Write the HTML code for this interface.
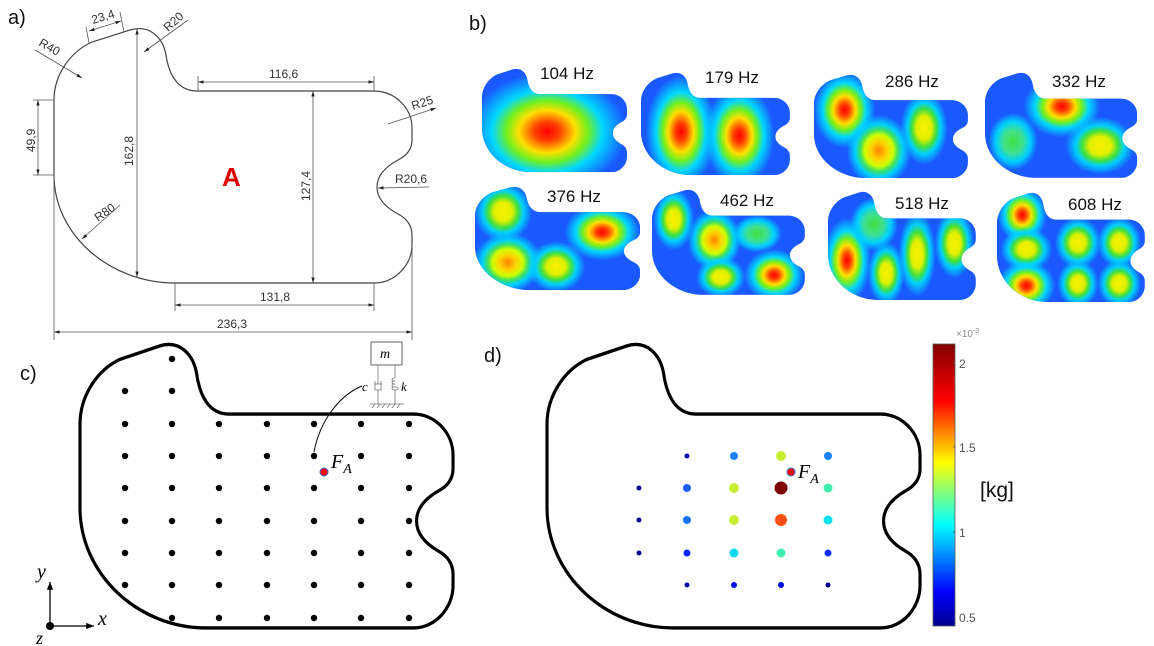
<!DOCTYPE html>
<html><head><meta charset="utf-8"><style>
html,body{margin:0;padding:0;background:#fff;}
svg{display:block;}
text{font-family:"Liberation Sans",sans-serif;}
.dim{font-size:12px;fill:#333;}
.lbl{font-size:20px;fill:#111;}
.hz{font-size:17px;fill:#111;}
.it{font-family:"Liberation Serif",serif;font-style:italic;}
</style></head><body>
<svg width="1154" height="646" viewBox="0 0 1154 646" xmlns="http://www.w3.org/2000/svg">
<defs>
<path id="shape" d="M54,100 C54,75 70,52 92,42 L130,30 C150,24 163,38 166,55 C169,75 178,91 197,91 L374,91 C395,91 412,108 412,128 L412,140 C412,150 406,156 398,160 C385,167 377,176 377,187 C377,198 385,207 398,214 C406,218 412,225 412,235 L412,245 C412,265 395,283 374,283 L175,283 C110,283 54,235 54,175 Z"/>
<clipPath id="cp" clipPathUnits="userSpaceOnUse"><use href="#shape"/></clipPath>
<marker id="ar" viewBox="0 0 10 10" refX="10" refY="5" markerWidth="7" markerHeight="7" orient="auto-start-reverse"><path d="M0,2 L10,5 L0,8 Z" fill="#222"/></marker>
<marker id="ar2" viewBox="0 0 10 10" refX="10" refY="5" markerWidth="6" markerHeight="6" orient="auto-start-reverse"><path d="M0,1 L10,5 L0,9 Z" fill="#000"/></marker>
<radialGradient id="hot"><stop offset="0" stop-color="#ff0000"/><stop offset=".16" stop-color="#ff4000"/><stop offset=".36" stop-color="#ffe000"/><stop offset=".52" stop-color="#70f020"/><stop offset=".7" stop-color="#00d8ff"/><stop offset="1" stop-color="#00d8ff" stop-opacity="0"/></radialGradient>
<radialGradient id="med"><stop offset="0" stop-color="#ff8000"/><stop offset=".24" stop-color="#ffd000"/><stop offset=".44" stop-color="#d0ff00"/><stop offset=".58" stop-color="#40e060"/><stop offset=".74" stop-color="#00d0ff"/><stop offset="1" stop-color="#00d0ff" stop-opacity="0"/></radialGradient>
<radialGradient id="weak"><stop offset="0" stop-color="#f8f000"/><stop offset=".32" stop-color="#e0f000"/><stop offset=".52" stop-color="#40e040"/><stop offset=".7" stop-color="#00d0ff"/><stop offset="1" stop-color="#00d0ff" stop-opacity="0"/></radialGradient>
<radialGradient id="grn"><stop offset="0" stop-color="#40e040"/><stop offset=".4" stop-color="#40e090"/><stop offset=".7" stop-color="#00d0ff"/><stop offset="1" stop-color="#00d0ff" stop-opacity="0"/></radialGradient>
<linearGradient id="jet" x1="0" y1="1" x2="0" y2="0"><stop offset="0" stop-color="#00008f"/><stop offset=".12" stop-color="#0000ff"/><stop offset=".36" stop-color="#00ffff"/><stop offset=".58" stop-color="#ffff00"/><stop offset=".8" stop-color="#ff0000"/><stop offset="1" stop-color="#800000"/></linearGradient>
<g id="bg"><rect x="40" y="20" width="400" height="280" fill="#1848ff"/><rect x="40" y="20" width="400" height="280" fill="#20a0ff" opacity="0.2"/></g>
</defs>

<!-- Panel a -->
<text class="lbl" x="8" y="24">a)</text>
<use href="#shape" fill="none" stroke="#444" stroke-width="1.2"/>
<g stroke="#555" stroke-width="0.8" fill="none">
<line x1="89" y1="43" x2="86" y2="27"/><line x1="124" y1="32" x2="120" y2="12"/>
<line x1="89" y1="31" x2="121" y2="21" marker-start="url(#ar)" marker-end="url(#ar)"/>
<line x1="144" y1="52" x2="188" y2="20" marker-start="url(#ar)"/>
<line x1="35" y1="50" x2="82" y2="78" marker-end="url(#ar)" />
<line x1="33" y1="100" x2="54" y2="100"/><line x1="33" y1="175" x2="54" y2="175"/>
<line x1="38" y1="100" x2="38" y2="175" marker-start="url(#ar)" marker-end="url(#ar)"/>
<line x1="137" y1="29" x2="137" y2="277" marker-start="url(#ar)" marker-end="url(#ar)"/>
<line x1="198" y1="76" x2="198" y2="91"/><line x1="374" y1="76" x2="374" y2="91"/>
<line x1="198" y1="82" x2="374" y2="82" marker-start="url(#ar)" marker-end="url(#ar)"/>
<line x1="313" y1="91" x2="313" y2="283" marker-start="url(#ar)" marker-end="url(#ar)"/>
<line x1="436" y1="108" x2="388" y2="124" marker-start="url(#ar)"/>
<line x1="429" y1="187" x2="378" y2="188" marker-end="url(#ar)"/>
<line x1="120" y1="205" x2="82" y2="239" marker-end="url(#ar)"/>
<line x1="175" y1="283" x2="175" y2="311"/><line x1="374" y1="283" x2="374" y2="311"/>
<line x1="175" y1="305" x2="374" y2="305" marker-start="url(#ar)" marker-end="url(#ar)"/>
<line x1="54" y1="175" x2="54" y2="340"/><line x1="412" y1="245" x2="412" y2="340"/>
<line x1="54" y1="332" x2="412" y2="332" marker-start="url(#ar)" marker-end="url(#ar)"/>
</g>
<text class="dim" transform="translate(93,24) rotate(-17)">23,4</text>
<text class="dim" transform="translate(168,32) rotate(-42)">R20</text>
<text class="dim" transform="translate(38,45) rotate(30)">R40</text>
<text class="dim" transform="translate(35,152) rotate(-90)">49,9</text>
<text class="dim" transform="translate(133,166) rotate(-90)">162,8</text>
<text class="dim" x="269" y="78">116,6</text>
<text class="dim" transform="translate(310,201) rotate(-90)">127,4</text>
<text class="dim" transform="translate(413,110) rotate(-18)">R25</text>
<text class="dim" x="395" y="183">R20,6</text>
<text class="dim" transform="translate(98,222) rotate(-35)">R80</text>
<text class="dim" x="260" y="301">131,8</text>
<text class="dim" x="217" y="328">236,3</text>
<text x="222" y="186" font-size="26" font-weight="bold" fill="#e00000">A</text>

<!-- Panel b -->
<text class="lbl" x="469" y="30">b)</text>
<g transform="translate(482,69) scale(0.405,0.406) translate(-54,-29)">
<g clip-path="url(#cp)"><use href="#bg"/>
<ellipse cx="215" cy="183" rx="195" ry="145" fill="url(#hot)"/></g></g>
<g transform="translate(641,73) scale(0.416,0.402) translate(-54,-29)">
<g clip-path="url(#cp)"><use href="#bg"/>
<ellipse cx="150" cy="175" rx="85" ry="140" fill="url(#hot)"/><ellipse cx="290" cy="185" rx="85" ry="125" fill="url(#hot)"/></g></g>
<g transform="translate(814,75) scale(0.430,0.406) translate(-54,-29)">
<g clip-path="url(#cp)"><use href="#bg"/>
<ellipse cx="125" cy="115" rx="72" ry="95" fill="url(#hot)"/><ellipse cx="205" cy="215" rx="75" ry="88" fill="url(#med)"/><ellipse cx="310" cy="160" rx="55" ry="90" fill="url(#weak)"/></g></g>
<g transform="translate(985,73) scale(0.425,0.413) translate(-54,-29)">
<g clip-path="url(#cp)"><use href="#bg"/>
<ellipse cx="235" cy="110" rx="90" ry="75" fill="url(#hot)"/><ellipse cx="325" cy="205" rx="82" ry="70" fill="url(#weak)"/><ellipse cx="120" cy="195" rx="58" ry="70" fill="url(#grn)"/></g></g>
<g transform="translate(475,187) scale(0.461,0.406) translate(-54,-29)">
<g clip-path="url(#cp)"><use href="#bg"/>
<ellipse cx="115" cy="90" rx="63" ry="75" fill="url(#weak)"/><ellipse cx="125" cy="215" rx="75" ry="75" fill="url(#med)"/><ellipse cx="230" cy="225" rx="63" ry="63" fill="url(#weak)"/><ellipse cx="330" cy="140" rx="82" ry="70" fill="url(#hot)"/></g></g>
<g transform="translate(652,190) scale(0.427,0.413) translate(-54,-29)">
<g clip-path="url(#cp)"><use href="#bg"/>
<ellipse cx="105" cy="100" rx="48" ry="75" fill="url(#weak)"/><ellipse cx="200" cy="150" rx="63" ry="75" fill="url(#med)"/><ellipse cx="300" cy="135" rx="58" ry="45" fill="url(#grn)"/><ellipse cx="215" cy="240" rx="58" ry="50" fill="url(#weak)"/><ellipse cx="340" cy="235" rx="70" ry="63" fill="url(#hot)"/></g></g>
<g transform="translate(828,192) scale(0.413,0.425) translate(-54,-29)">
<g clip-path="url(#cp)"><use href="#bg"/>
<ellipse cx="100" cy="190" rx="58" ry="100" fill="url(#hot)"/><ellipse cx="165" cy="105" rx="58" ry="63" fill="url(#grn)"/><ellipse cx="195" cy="220" rx="45" ry="75" fill="url(#weak)"/><ellipse cx="270" cy="175" rx="45" ry="100" fill="url(#weak)"/><ellipse cx="360" cy="150" rx="48" ry="82" fill="url(#weak)"/></g></g>
<g transform="translate(997,193) scale(0.413,0.429) translate(-54,-29)">
<g clip-path="url(#cp)"><use href="#bg"/>
<ellipse cx="115" cy="80" rx="60" ry="65" fill="url(#hot)"/><ellipse cx="125" cy="160" rx="63" ry="52" fill="url(#weak)"/><ellipse cx="125" cy="245" rx="70" ry="60" fill="url(#hot)"/><ellipse cx="250" cy="145" rx="56" ry="60" fill="url(#weak)"/><ellipse cx="350" cy="145" rx="53" ry="60" fill="url(#weak)"/><ellipse cx="250" cy="240" rx="50" ry="56" fill="url(#weak)"/><ellipse cx="350" cy="240" rx="53" ry="56" fill="url(#weak)"/></g></g>
<text class="hz" x="540" y="79">104 Hz</text>
<text class="hz" x="705" y="83">179 Hz</text>
<text class="hz" x="885" y="87">286 Hz</text>
<text class="hz" x="1052" y="87">332 Hz</text>
<text class="hz" x="547" y="202">376 Hz</text>
<text class="hz" x="720" y="206">462 Hz</text>
<text class="hz" x="895" y="209">518 Hz</text>
<text class="hz" x="1068" y="210">608 Hz</text>

<!-- Panel c -->
<text class="lbl" x="20" y="380">c)</text>
<g transform="translate(80,345) scale(1.042,1.114) translate(-54,-29)"><use href="#shape" fill="none" stroke="#000" stroke-width="3" vector-effect="non-scaling-stroke"/></g>
<g fill="#000">
<circle cx="172" cy="359" r="3.2"/><circle cx="125" cy="391" r="3.2"/><circle cx="172" cy="391" r="3.2"/>
<g id="row"><circle cx="125" cy="424" r="3.2"/><circle cx="172" cy="424" r="3.2"/><circle cx="219" cy="424" r="3.2"/><circle cx="267" cy="424" r="3.2"/><circle cx="314" cy="424" r="3.2"/><circle cx="361" cy="424" r="3.2"/><circle cx="409" cy="424" r="3.2"/></g>
<use href="#row" y="32"/><use href="#row" y="64"/><use href="#row" y="97"/><use href="#row" y="129"/><use href="#row" y="161"/>
<circle cx="172" cy="618" r="3.2"/><circle cx="219" cy="618" r="3.2"/><circle cx="267" cy="618" r="3.2"/><circle cx="314" cy="618" r="3.2"/><circle cx="361" cy="618" r="3.2"/><circle cx="409" cy="618" r="3.2"/>
</g>
<circle cx="324" cy="472" r="4" fill="#f00" stroke="#3070d0" stroke-width="1"/>
<text class="it" x="331" y="468" font-size="20">F<tspan font-size="14" dy="5">A</tspan></text>
<path d="M314,452 C320,420 340,395 362,386" fill="none" stroke="#000" stroke-width="1"/>
<rect x="371" y="342" width="31" height="23" fill="#fff" stroke="#666" stroke-width="1"/>
<text class="it" x="380" y="358" font-size="14">m</text>
<g stroke="#777" stroke-width="0.8" fill="none">
<line x1="378" y1="365" x2="378" y2="384"/><line x1="374" y1="384" x2="382" y2="384"/><path d="M375,381 L375,390 L381,390 L381,381"/><line x1="378" y1="390" x2="378" y2="404"/>
<line x1="395" y1="365" x2="395" y2="378"/><path d="M395,378 c-4,0 -4,3 0,3 c-4,0 -4,3 0,3 c-4,0 -4,3 0,3 c-4,0 -4,3 0,3 c4,0 4,-3 0,-3"/><line x1="395" y1="390" x2="395" y2="404"/>
<line x1="370" y1="404" x2="404" y2="404"/>
<path d="M372,408 l3,-4 M377,408 l3,-4 M382,408 l3,-4 M387,408 l3,-4 M392,408 l3,-4 M397,408 l3,-4"/>
</g>
<text class="it" x="362" y="391" font-size="13">c</text>
<text class="it" x="401" y="391" font-size="13">k</text>
<line x1="50" y1="626" x2="50" y2="582" stroke="#000" stroke-width="1.3" marker-end="url(#ar2)"/>
<line x1="50" y1="626" x2="94" y2="626" stroke="#000" stroke-width="1.3" marker-end="url(#ar2)"/>
<circle cx="50" cy="626" r="4" fill="#000"/>
<text class="it" x="37" y="578" font-size="20">y</text>
<text class="it" x="98" y="625" font-size="20">x</text>
<text class="it" x="36" y="644" font-size="18">z</text>

<!-- Panel d -->
<text class="lbl" x="484" y="362">d)</text>
<g transform="translate(547,345) scale(1.042,1.114) translate(-54,-29)"><use href="#shape" fill="none" stroke="#000" stroke-width="3" vector-effect="non-scaling-stroke"/></g>
<circle cx="687" cy="456" r="2.5" fill="#0000b0"/><circle cx="734" cy="456" r="4" fill="#1a80ff"/><circle cx="781" cy="456" r="5" fill="#c8f030"/><circle cx="828" cy="456" r="4" fill="#1a80ff"/>
<circle cx="639" cy="488" r="2.5" fill="#00008f"/><circle cx="687" cy="488" r="4" fill="#1a5cff"/><circle cx="734" cy="488" r="5" fill="#c8f030"/><circle cx="781" cy="488" r="6.5" fill="#800000"/><circle cx="828" cy="488" r="4.5" fill="#40f0b0"/>
<circle cx="639" cy="520" r="2.5" fill="#00008f"/><circle cx="687" cy="520" r="4" fill="#1a70ff"/><circle cx="734" cy="520" r="5" fill="#c8f030"/><circle cx="781" cy="520" r="6" fill="#ff5010"/><circle cx="828" cy="520" r="4.5" fill="#10e0f0"/>
<circle cx="639" cy="553" r="2.5" fill="#00008f"/><circle cx="687" cy="553" r="3.5" fill="#0028ff"/><circle cx="734" cy="553" r="4.5" fill="#10d8f0"/><circle cx="781" cy="553" r="4.5" fill="#40f0b0"/><circle cx="828" cy="553" r="3.5" fill="#1030ff"/>
<circle cx="687" cy="585" r="2.5" fill="#00009f"/><circle cx="734" cy="585" r="3" fill="#0010e0"/><circle cx="781" cy="585" r="3" fill="#0010e0"/><circle cx="828" cy="585" r="2.5" fill="#00008f"/>
<circle cx="791" cy="472" r="4" fill="#f00" stroke="#3070d0" stroke-width="1"/>
<text class="it" x="798" y="478" font-size="20">F<tspan font-size="14" dy="5">A</tspan></text>
<rect x="933" y="344" width="22" height="282" fill="url(#jet)" stroke="#555" stroke-width="0.8"/>
<g fill="#555" font-size="12"><text x="959" y="368">2</text><text x="959" y="452">1.5</text><text x="959" y="537">1</text><text x="959" y="622">0.5</text>
<text x="956" y="337" font-size="10" fill="#888">×10<tspan font-size="7" dy="-4">-3</tspan></text></g>
<g stroke="#555" stroke-width="0.8"><line x1="953" y1="363" x2="955" y2="363"/><line x1="953" y1="447" x2="955" y2="447"/><line x1="953" y1="532" x2="955" y2="532"/></g>
<text x="980" y="497" font-size="21" fill="#111">[kg]</text>
</svg>
</body></html>
